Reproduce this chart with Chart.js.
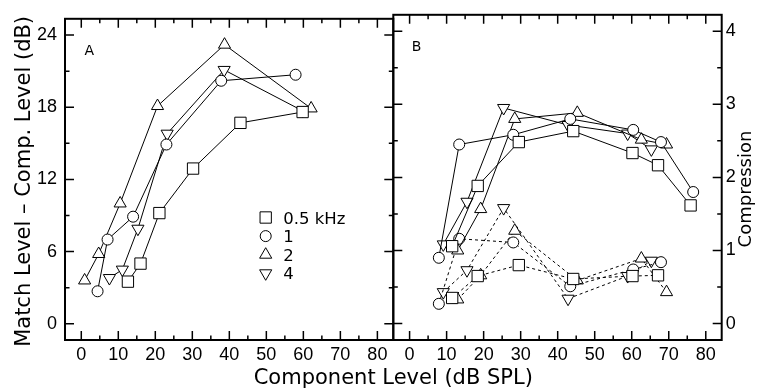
<!DOCTYPE html>
<html>
<head>
<meta charset="utf-8">
<script src="https://cdn.jsdelivr.net/npm/chart.js@4.4.1/dist/chart.umd.min.js"></script>
<style>
  html, body { margin: 0; padding: 0; background: #fff; }
  #wrap { position: relative; width: 760px; height: 390px; }
  #wrap canvas { position: absolute; left: 0; top: 0; }
</style>
</head>
<body>
<div id="wrap">
  <canvas id="panelA" width="760" height="390"></canvas>
  <canvas id="panelB" width="760" height="390"></canvas>
</div>
<script>
// legend / frequencies
const freqLabels = ['0.5 kHz', '1', '2', '4'];
// labelled tick values
const levelTicks = [0, 10, 20, 30, 40, 50, 60, 70, 80];
const dbTicks = [0, 6, 12, 18, 24];
const compTicks = [0, 1, 2, 3, 4];

// Panel A: match level - comp. level (dB) vs component level
const aLevel05 = [12.6, 16.0, 21.1, 30.2, 43.0, 59.8];
const aMatch05 = [3.5, 5.0, 9.2, 12.9, 16.7, 17.6];
const aLevel1 = [4.4, 7.1, 14.0, 23.0, 37.8, 57.9];
const aMatch1 = [2.7, 7.0, 8.9, 14.9, 20.2, 20.7];
const aLevel2 = [0.9, 4.7, 10.5, 20.6, 38.7, 62.1];
const aMatch2 = [3.6, 5.8, 10.0, 18.1, 23.2, 17.9];
const aLevel4 = [7.6, 11.1, 15.3, 23.2, 38.6, 59.8];
const aMatch4 = [3.8, 4.5, 7.9, 15.8, 21.1, 17.7];

// Panel B: solid = match diff (dB, left scale), dashed = compression (right scale)
const bLevel05 = [11.5, 18.4, 29.5, 44.2, 60.2, 67.1, 75.9];
const bMatch05 = [6.35, 11.3, 14.9, 15.8, 14.0, 13.0, 9.7];
const bComp05 = [0.35, 0.65, 0.80, 0.61, 0.65, 0.66];
const bLevel1 = [7.9, 13.4, 28.0, 43.4, 60.4, 67.9, 76.6];
const bMatch1 = [5.4, 14.7, 15.5, 16.8, 15.9, 14.9, 10.8];
const bComp1 = [0.27, 1.16, 1.11, 0.51, 0.74, 0.84];
const bLevel2 = [13.0, 19.2, 28.4, 45.3, 62.6, 69.4];
const bMatch2 = [6.0, 9.4, 16.8, 17.3, 15.1, 14.7];
const bComp2 = [0.33, 0.66, 1.27, 0.59, 0.89, 0.43];
const bLevel4 = [9.1, 15.5, 25.4, 42.8, 58.9, 65.3];
const bMatch4 = [6.5, 10.0, 17.7, 16.3, 15.6, 14.3];
const bComp4 = [0.43, 0.73, 1.58, 0.34, 0.65, 0.86];

const X_MIN = -4.4, X_MAX = 84.3;
const Y_MIN = -1.35, Y_MAX = 25.35;

const markers = [
  { pointStyle: 'rect', pointRadius: 8, pointRotation: 0 },
  { pointStyle: 'circle', pointRadius: 5.5, pointRotation: 0 },
  { pointStyle: 'triangle', pointRadius: 7, pointRotation: 0 },
  { pointStyle: 'triangle', pointRadius: 7, pointRotation: 180 },
];

const tickFont = { family: 'Liberation Sans', size: 18 };
const titleFont = '21px "DejaVu Sans"';

const toPoints = (xs, ys) => ys.map((y, i) => ({ x: xs[i], y: y }));

function series(label, xs, ys, k, extra) {
  return Object.assign({
    label: label,
    data: toPoints(xs, ys),
    showLine: true,
    borderColor: '#000',
    borderWidth: 1,
    pointBackgroundColor: '#fff',
    pointBorderColor: '#000',
    pointBorderWidth: 1,
    pointHoverRadius: markers[k].pointRadius,
    clip: false,
  }, markers[k], extra || {});
}

// frame + inward tick marks on all four sides
const frameTicks = {
  id: 'frameTicks',
  afterDatasetsDraw(chart, args, opts) {
    const ctx = chart.ctx, a = chart.chartArea;
    const xs = chart.scales.x, ys = chart.scales[opts.yScale];
    ctx.save();
    ctx.strokeStyle = '#000';
    ctx.lineWidth = 1.5;
    ctx.beginPath();
    xs.ticks.forEach(t => {
      const px = xs.getPixelForValue(t.value);
      const len = Math.abs(t.value % 10) < 1e-6 ? 9 : 4.5;
      ctx.moveTo(px, a.bottom); ctx.lineTo(px, a.bottom - len);
      ctx.moveTo(px, a.top); ctx.lineTo(px, a.top + len);
    });
    ys.ticks.forEach(t => {
      const py = ys.getPixelForValue(t.value);
      const r = t.value / opts.yMajor;
      const len = Math.abs(r - Math.round(r)) < 1e-6 ? 9 : 4.5;
      ctx.moveTo(a.left, py); ctx.lineTo(a.left + len, py);
      ctx.moveTo(a.right, py); ctx.lineTo(a.right - len, py);
    });
    ctx.stroke();
    ctx.lineWidth = 2;
    ctx.strokeRect(a.left, a.top, a.right - a.left, a.bottom - a.top);
    ctx.restore();
  }
};

// panel letters, free-standing titles and the in-plot legend
const decor = {
  id: 'decor',
  afterDraw(chart, args, opts) {
    const ctx = chart.ctx, a = chart.chartArea;
    ctx.save();
    ctx.fillStyle = '#000';
    (opts.texts || []).forEach(t => {
      ctx.save();
      ctx.font = t.font;
      ctx.textAlign = t.align || 'left';
      ctx.textBaseline = 'alphabetic';
      ctx.translate(t.x(a), t.y(a));
      if (t.rotate) ctx.rotate(t.rotate);
      ctx.fillText(t.text, 0, 0);
      ctx.restore();
    });
    if (opts.legend) {
      const lx = a.left + 200.7, ly = a.top + 198.7, step = 18.6;
      chart.data.datasets.forEach((ds, i) => {
        const y = ly + i * step;
        ctx.fillStyle = '#fff';
        ctx.strokeStyle = '#000';
        ctx.lineWidth = 1;
        Chart.helpers.drawPoint(ctx, {
          pointStyle: ds.pointStyle, rotation: ds.pointRotation,
          radius: ds.pointRadius, borderWidth: 1
        }, lx, y);
        ctx.fillStyle = '#000';
        ctx.font = '16.5px "DejaVu Sans"';
        ctx.textAlign = 'left';
        ctx.textBaseline = 'alphabetic';
        ctx.fillText(ds.label, lx + 17.5, y + 6);
      });
    }
    ctx.restore();
  }
};

function xScale() {
  return {
    type: 'linear', position: 'bottom', min: X_MIN, max: X_MAX,
    grid: { display: false, drawTicks: false }, border: { display: false },
    ticks: {
      stepSize: 5, includeBounds: false, autoSkip: false, maxRotation: 0,
      padding: 4, color: '#000', font: tickFont,
      callback: v => levelTicks.includes(v) ? String(v) : ''
    },
    afterFit: s => { s.height = 50; }
  };
}

const common = {
  responsive: false, animation: false, devicePixelRatio: 1,
  events: [],
};

new Chart(document.getElementById('panelA'), {
  type: 'scatter',
  data: {
    datasets: [
      series(freqLabels[0], aLevel05, aMatch05, 0),
      series(freqLabels[1], aLevel1, aMatch1, 1),
      series(freqLabels[2], aLevel2, aMatch2, 2),
      series(freqLabels[3], aLevel4, aMatch4, 3),
    ]
  },
  options: Object.assign({}, common, {
    layout: { padding: { left: 0, top: 12, right: 760 - 393.3, bottom: 0 } },
    plugins: {
      legend: { display: false }, tooltip: { enabled: false },
      frameTicks: { yScale: 'y', yMajor: 6 },
      decor: {
        legend: true,
        texts: [
          { text: 'A', font: '14px "DejaVu Sans"', x: a => a.left + 19.5, y: a => a.top + 36.5 },
          { text: 'Match Level \u2013 Comp. Level (dB)', font: titleFont, align: 'center',
            rotate: -Math.PI / 2, x: a => 30, y: a => (a.top + a.bottom) / 2 + 2 },
        ]
      }
    },
    scales: {
      x: xScale(),
      y: {
        type: 'linear', position: 'left', min: Y_MIN, max: Y_MAX,
        grid: { display: false, drawTicks: false }, border: { display: false },
        ticks: {
          stepSize: 3, includeBounds: false, autoSkip: false,
          padding: 8, color: '#000', font: tickFont,
          callback: v => dbTicks.includes(v) ? String(v) : ''
        },
        afterFit: s => { s.width = 65; }
      }
    }
  }),
  plugins: [frameTicks, decor]
});

const dash = { borderDash: [3, 3] };

new Chart(document.getElementById('panelB'), {
  type: 'scatter',
  data: {
    datasets: [
      series(freqLabels[0], bLevel05, bMatch05, 0),
      series(freqLabels[1], bLevel1, bMatch1, 1),
      series(freqLabels[2], bLevel2, bMatch2, 2),
      series(freqLabels[3], bLevel4, bMatch4, 3),
      series(freqLabels[0], bLevel05, bComp05, 0, Object.assign({ yAxisID: 'y2' }, dash)),
      series(freqLabels[1], bLevel1, bComp1, 1, Object.assign({ yAxisID: 'y2' }, dash)),
      series(freqLabels[2], bLevel2, bComp2, 2, Object.assign({ yAxisID: 'y2' }, dash)),
      series(freqLabels[3], bLevel4, bComp4, 3, Object.assign({ yAxisID: 'y2' }, dash)),
    ]
  },
  options: Object.assign({}, common, {
    layout: { padding: { left: 393.3, top: 12, right: 0, bottom: 0 } },
    plugins: {
      legend: { display: false }, tooltip: { enabled: false },
      frameTicks: { yScale: 'y2', yMajor: 1 },
      decor: {
        texts: [
          { text: 'B', font: '14px "DejaVu Sans"', x: a => a.left + 18.5, y: a => a.top + 36.5 },
          { text: 'Component Level (dB SPL)', font: titleFont, align: 'center',
            x: a => a.left, y: a => a.bottom + 44 },
          { text: 'Compression', font: '18px "DejaVu Sans"', align: 'center',
            rotate: -Math.PI / 2, x: a => a.right + 29.5, y: a => 189 },
        ]
      }
    },
    scales: {
      x: xScale(),
      y: { type: 'linear', position: 'left', display: false, min: Y_MIN, max: Y_MAX },
      y2: {
        type: 'linear', position: 'right', min: Y_MIN / 6, max: Y_MAX / 6,
        grid: { display: false, drawTicks: false }, border: { display: false },
        ticks: {
          stepSize: 0.5, includeBounds: false, autoSkip: false,
          padding: 4, color: '#000', font: tickFont,
          callback: v => compTicks.includes(v) ? String(v) : ''
        },
        afterFit: s => { s.width = 760 - 721.7; }
      }
    }
  }),
  plugins: [frameTicks, decor]
});
</script>
</body>
</html>
